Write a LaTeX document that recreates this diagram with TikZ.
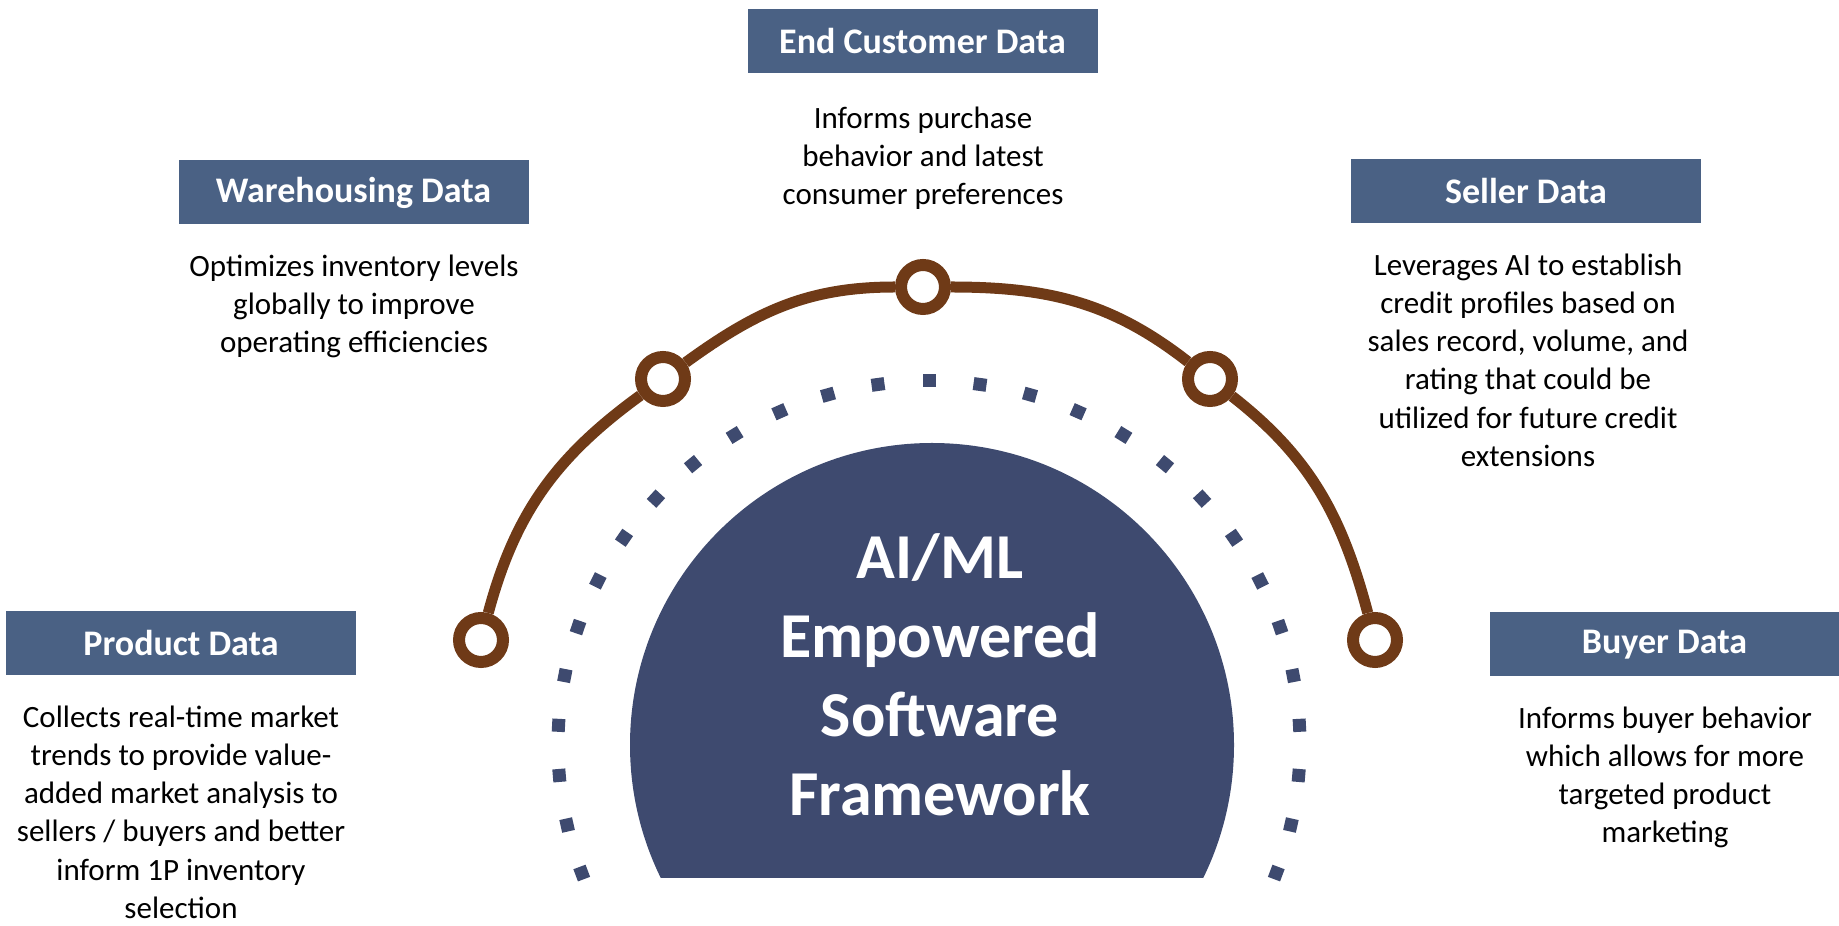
\documentclass[tikz,border=0pt]{standalone}
\usepackage{fontspec}
\setmainfont{Carlito}
\definecolor{hdr}{HTML}{4A6184}
\definecolor{domec}{HTML}{3E4A6F}
\definecolor{brn}{HTML}{6F3A17}
\begin{document}
\begin{tikzpicture}[x=1pt,y=1pt,
  hdrbox/.style={fill=hdr, minimum width=350pt, minimum height=64pt, inner sep=0pt, text=white, font=\fontsize{36}{42}\selectfont\bfseries},
  body/.style={anchor=north, align=center, inner sep=0pt, font=\fontsize{31}{38.3}\selectfont},
  marker/.style={circle, draw=brn, fill=white, line width=12pt, minimum size=44pt, inner sep=0pt},
  brnline/.style={draw=brn, line width=11pt},
  dotsq/.style={fill=domec, minimum size=13pt, inner sep=0pt}
]
\useasboundingbox (0,0) rectangle (1839,926);

% central dome
\coordinate (domecenter) at (932,181);
\begin{scope}
  \clip (0,48) rectangle (1839,926);
  \fill[domec] (domecenter) circle (302);
\end{scope}
\node[font=\fontsize{64}{79}\selectfont\bfseries, text=white, align=center, anchor=north, inner sep=0pt] (core) at (940,403) {\strut AI/ML\\Empowered\\Software\\Framework};

% dotted arc
\coordinate (dotcenter) at (929,181);
\foreach \k in {-14,...,14}{
  \pgfmathsetmacro{\ang}{90+\k*7.9}
  \node[dotsq, rotate=\ang] (dot\k) at ([shift={(\ang:371 and 364)}]dotcenter) {};
}

% brown arc with markers
\node[marker] (m1) at (481,286) {};
\node[marker] (m2) at (663,547) {};
\node[marker] (m3) at (923,639) {};
\node[marker] (m4) at (1210,547) {};
\node[marker] (m5) at (1375,286) {};
\draw[brnline] (m1) to[out=75, in=216] (m2);
\draw[brnline] (m2) to[out=36, in=180] (m3);
\draw[brnline] (m3) to[out=0, in=142] (m4);
\draw[brnline] (m4) to[out=-38, in=105] (m5);

% headers
\node[hdrbox] (hend) at (922.5,885) {End Customer Data};
\node[hdrbox] (hware) at (353.5,733.5) {Warehousing Data};
\node[hdrbox] (hsell) at (1526,735) {Seller Data};
\node[hdrbox] (hprod) at (181,282.5) {Product Data};
\node[hdrbox] (hbuy) at (1664.5,281.5) {Buyer Data};

% descriptions
\node[body] (tend) at (923,825) {\strut Informs purchase\\behavior and latest\\consumer preferences};
\node[body] (tware) at (354,677) {\strut Optimizes inventory levels\\globally to improve\\operating efficiencies};
\node[body] (tsell) at (1528,678) {\strut Leverages AI to establish\\credit profiles based on\\sales record, volume, and\\rating that could be\\utilized for future credit\\extensions};
\node[body] (tprod) at (181,226) {\strut Collects real-time market\\trends to provide value-\\added market analysis to\\sellers / buyers and better\\inform 1P inventory\\selection};
\node[body] (tbuy) at (1665,225) {\strut Informs buyer behavior\\which allows for more\\targeted product\\marketing};
\end{tikzpicture}
\end{document}
